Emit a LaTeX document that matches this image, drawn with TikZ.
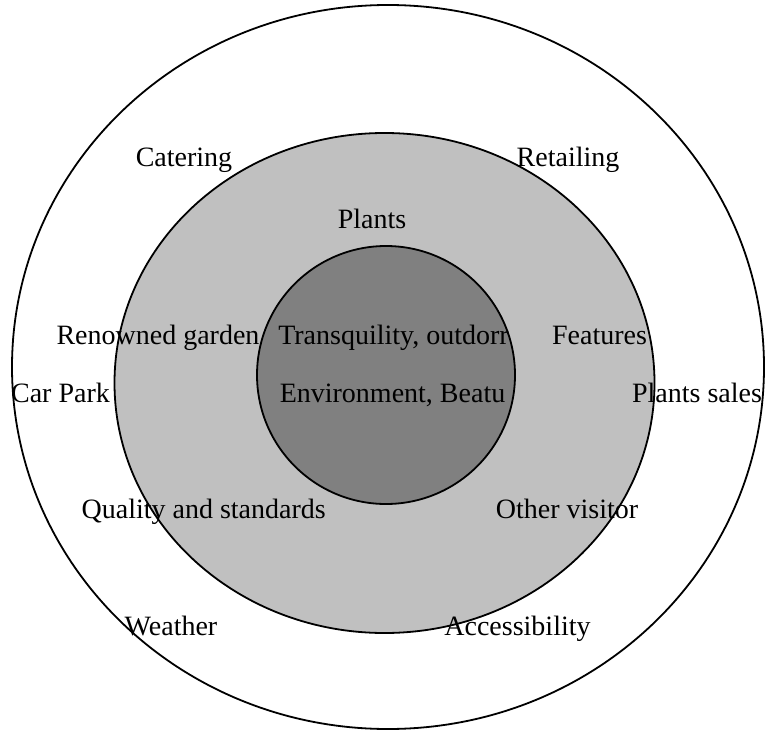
\documentclass[tikz,border=0pt]{standalone}
\usepackage{fontspec}
\setmainfont{Liberation Serif}
\usepackage{tikz}
\definecolor{outerring}{RGB}{255,255,255}
\definecolor{middlering}{RGB}{192,192,192}
\definecolor{innercore}{RGB}{128,128,128}

\begin{document}
\begin{tikzpicture}[x=1pt,y=-1pt,line width=1.8pt,every node/.style={anchor=base,inner sep=0pt,font=\fontsize{28}{34}\selectfont}]
    \useasboundingbox (0,0) rectangle (765,730);
    \filldraw[fill=outerring] (388,367) ellipse [x radius=376, y radius=362];
    \filldraw[fill=middlering] (384.5,383) ellipse [x radius=270, y radius=250];
    \filldraw[fill=innercore] (386,375) circle [radius=129];

    \node (catering) at (184,167) {Catering};
    \node (retailing) at (568,167) {Retailing};
    \node (plants) at (372,228) {Plants};
    \node (renowned) at (158,344) {Renowned garden};
    \node (transquility) at (393.5,344) {Transquility, outdorr};
    \node (features) at (599.5,344) {Features};
    \node (carpark) at (60.5,402) {Car Park};
    \node (environment) at (392.5,402) {Environment, Beatu};
    \node (plantsales) at (697,402) {Plants sales};
    \node (quality) at (203.7,518) {Quality and standards};
    \node (othervisitor) at (567,518) {Other visitor};
    \node (weather) at (171,635) {Weather};
    \node (accessibility) at (517.5,635) {Accessibility};
\end{tikzpicture}
\end{document}
